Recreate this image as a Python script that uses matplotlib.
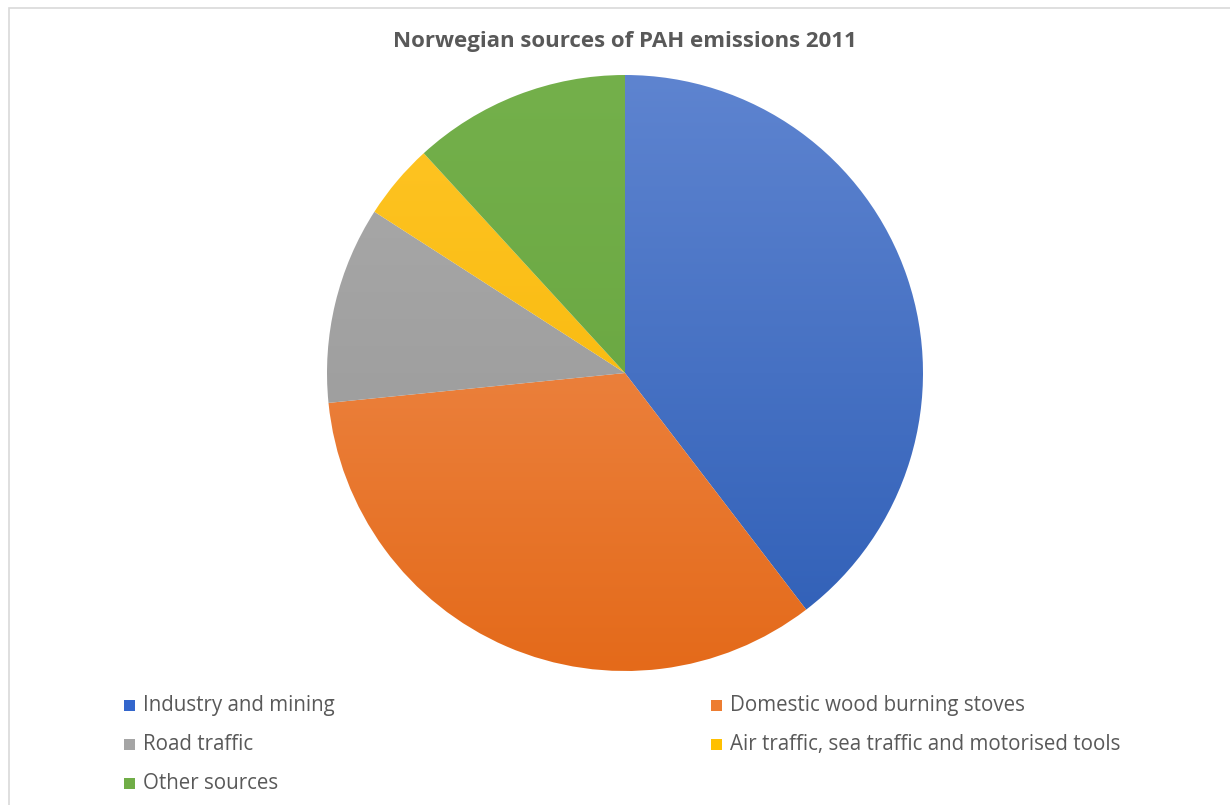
import numpy as np
import matplotlib
matplotlib.use("Agg")
import matplotlib.pyplot as plt
from matplotlib.colors import to_rgb
from matplotlib.patches import Rectangle

# PAH emission shares by source (percent)
sources = [
    "Industry and mining",
    "Domestic wood burning stoves",
    "Road traffic",
    "Air traffic, sea traffic and motorised tools",
    "Other sources",
]
shares = [39.6, 33.8, 10.7, 4.1, 11.8]

# light (top) and dark (bottom) shade of each slice
light_colors = ["#5E84D0", "#F2955C", "#ABABAB", "#FFC526", "#74B04B"]
dark_colors = ["#2E5EB6", "#E46A1A", "#959595", "#F4B400", "#64A23C"]
legend_colors = ["#3366CC", "#ED7D31", "#A5A5A5", "#FFC000", "#70AD47"]

TEXT = "#595959"

fig = plt.figure(figsize=(12.3, 8.05), dpi=100)
fig.patch.set_facecolor("white")

W, H = 1230, 805
cx, cy, r = 625, 373, 298
ax = fig.add_axes([(cx - r) / W, (H - cy - r) / H, 2 * r / W, 2 * r / H])
ax.axis("off")

wedges, _ = ax.pie(shares, startangle=90, counterclock=False, radius=1,
                   colors=legend_colors, wedgeprops=dict(linewidth=0))

# vertical gradient fill clipped to each wedge
n = 256
t = np.linspace(0, 1, n)[:, None]
for w, lc, dc in zip(wedges, light_colors, dark_colors):
    lc, dc = np.array(to_rgb(lc)), np.array(to_rgb(dc))
    grad = (lc[None, None, :] * (1 - t[..., None]) + dc[None, None, :] * t[..., None])
    grad = np.repeat(grad, 4, axis=1)
    im = ax.imshow(grad, extent=[-1, 1, -1, 1], origin="upper",
                   aspect="auto", zorder=2, interpolation="bilinear")
    im.set_clip_path(w)
    w.set_alpha(0)

ax.set_xlim(-1, 1)
ax.set_ylim(-1, 1)
ax.set_aspect("equal")

# title
fig.text(625 / W, 1 - 42 / H, "Norwegian sources of PAH emissions 2011",
         ha="center", va="center", fontsize=16, fontweight="bold",
         color=TEXT, family="Open Sans")

# legend laid out in rows of two
col_x = [124, 711]
row_y = [705, 744, 783]
sq = 11
for i, (label, col) in enumerate(zip(sources, legend_colors)):
    x = col_x[i % 2]
    y = row_y[i // 2]
    fig.patches.append(Rectangle((x / W, (H - y - sq / 2) / H), sq / W, sq / H,
                                 transform=fig.transFigure, facecolor=col,
                                 edgecolor="none"))
    fig.text((x + 19) / W, 1 - y / H, label, ha="left", va="center",
             fontsize=14.8, color=TEXT, family="Open Sans")

# chart frame (top and left edges visible)
fig.patches.append(Rectangle((8.5 / W, -0.05), 1.2, 1 - 8.5 / H + 0.05,
                             transform=fig.transFigure, facecolor="none",
                             edgecolor="#D9D9D9", linewidth=1.2))

fig.savefig("out.png", dpi=100, facecolor="white")
